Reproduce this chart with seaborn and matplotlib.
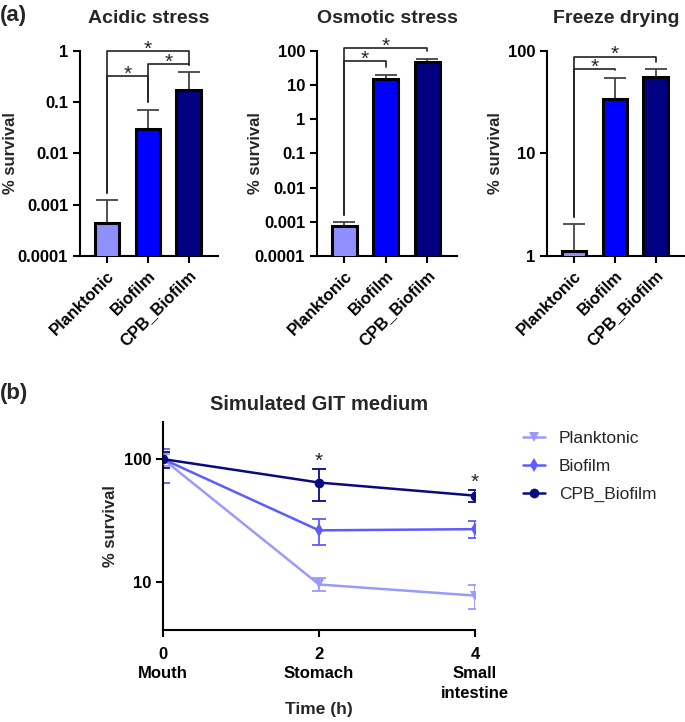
import numpy as np
import pandas as pd

import matplotlib
matplotlib.use("Agg")
import matplotlib.pyplot as plt
import seaborn as sns

sns.set_theme(style="ticks",
              rc={
                  "axes.linewidth": 1.5,
                  "xtick.major.width": 1.5,
                  "ytick.major.width": 1.5,
                  "xtick.major.size": 5,
                  "ytick.major.size": 5,
                  "xtick.color": "black",
                  "ytick.color": "black",
                  "axes.edgecolor": "black",
              })
plt.rcParams['font.family'] = ['Liberation Sans', 'DejaVu Sans']

W, H = 685, 722

# ---- panel (a) data ----
groups = ["Planktonic", "Biofilm", "CPB_Biofilm"]
bar_colors = ["#8f8fff", "#0000ff", "#000080"]

acid_mean = [0.00045, 0.030, 0.175]
acid_upper = [0.00123, 0.072, 0.39]
acid_ticks = [0.0001, 0.001, 0.01, 0.1, 1]
acid_ticklabels = ["0.0001", "0.001", "0.01", "0.1", "1"]
acid_brackets = [(0, 1, 0.32), (1, 2, 0.55), (0, 2, 0.98)]

osmo_mean = [0.00077, 15.0, 48.0]
osmo_upper = [0.001, 20.5, 60.0]
osmo_ticks = [0.0001, 0.001, 0.01, 0.1, 1, 10, 100]
osmo_ticklabels = ["0.0001", "0.001", "0.01", "0.1", "1", "10", "100"]
osmo_brackets = [(0, 1, 50), (0, 2, 123)]

freeze_mean = [1.13, 34.0, 56.0]
freeze_upper = [2.04, 55.0, 66.0]
freeze_ticks = [1, 10, 100]
freeze_ticklabels = ["1", "10", "100"]
freeze_brackets = [(0, 1, 66), (0, 2, 88)]

# ---- panel (b) data ----
times = [0, 2, 4]
time_ticklabels = ["0\nMouth", "2\nStomach", "4\nSmall\nintestine"]
line_colors = {"Planktonic": "#9a9afc", "Biofilm": "#5c5cff", "CPB_Biofilm": "#0a0a80"}
line_markers = {"Planktonic": "v", "Biofilm": "d", "CPB_Biofilm": "o"}

plank_mean = [100, 9.6, 7.8]
plank_lo = [88, 8.5, 6.1]
plank_hi = [110, 10.9, 9.5]
bio_mean = [100, 26.4, 27.0]
bio_lo = [64, 20.0, 22.8]
bio_hi = [121, 32.6, 31.6]
cpb_mean = [100, 64.5, 50.5]
cpb_lo = [85, 45.5, 45.0]
cpb_hi = [115, 83.8, 56.0]
star_times = [2, 4]

fig = plt.figure(figsize=(W / 100, H / 100), dpi=100)


def px_axes(left, right, top, bottom):
    return fig.add_axes([left / W, 1 - bottom / H, (right - left) / W, (bottom - top) / H])


def bar_panel(ax, title, mean, upper, ticks, ticklabels, brackets, label_x):
    ax.set_yscale("log")
    sns.barplot(x=groups, y=mean, hue=groups, palette=bar_colors, legend=False,
                width=0.6, edgecolor="black", linewidth=2.2, saturation=1, ax=ax, zorder=3)
    mean = np.array(mean)
    upper = np.array(upper)
    ax.errorbar(np.arange(len(groups)), mean, yerr=[np.zeros_like(mean), upper - mean],
                fmt="none", ecolor="#444444", elinewidth=1.3, capsize=8, capthick=1.3, zorder=2)
    ax.set_ylim(ticks[0], ticks[-1])
    ax.set_xlim(-0.66, 2.72)
    ax.set_yticks(ticks, ticklabels)
    ax.minorticks_off()
    ax.tick_params(axis="both", labelsize=12)
    for lab in ax.get_yticklabels():
        lab.set_fontweight("bold")
    ax.set_xticks(range(len(groups)))
    ax.set_xticklabels(groups, rotation=45, ha="right", rotation_mode="anchor", fontweight="bold")
    ax.set_ylabel("% survival", fontsize=12, fontweight="bold")
    ax.yaxis.set_label_coords(label_x, 0.5)
    ax.set_xlabel("")
    ax.set_title(title, fontsize=14, fontweight="bold", pad=20)
    sns.despine(ax=ax)

    # significance brackets
    logspan = np.log10(ticks[-1]) - np.log10(ticks[0])
    gap = 10 ** (0.035 * logspan)
    for i, j, h in brackets:
        ax.plot([i, i, j, j], [upper[i] * gap, h, h, upper[j] * gap],
                color="#222222", lw=1.2, clip_on=False, zorder=4)
        ax.annotate("*", xy=((i + j) / 2, h), xytext=(0, -2.5), textcoords="offset points",
                    ha="center", va="baseline", fontsize=15, annotation_clip=False)


ax1 = px_axes(80, 218, 51, 256)
bar_panel(ax1, "Acidic stress", acid_mean, acid_upper, acid_ticks, acid_ticklabels,
          acid_brackets, (18 - 80) / 138)
ax2 = px_axes(317, 457, 51, 256)
bar_panel(ax2, "Osmotic stress", osmo_mean, osmo_upper, osmo_ticks, osmo_ticklabels,
          osmo_brackets, (263 - 317) / 140)
ax3 = px_axes(547, 685, 51, 256)
bar_panel(ax3, "Freeze drying", freeze_mean, freeze_upper, freeze_ticks, freeze_ticklabels,
          freeze_brackets, (503 - 547) / 138)

# ---- panel (b) ----
df = pd.DataFrame({
    "time": times * 3,
    "survival": plank_mean + bio_mean + cpb_mean,
    "group": ["Planktonic"] * 3 + ["Biofilm"] * 3 + ["CPB_Biofilm"] * 3,
})
lows = {"Planktonic": plank_lo, "Biofilm": bio_lo, "CPB_Biofilm": cpb_lo}
highs = {"Planktonic": plank_hi, "Biofilm": bio_hi, "CPB_Biofilm": cpb_hi}

axb = px_axes(163, 475, 422, 630)
axb.set_yscale("log")
sns.lineplot(data=df, x="time", y="survival", hue="group", style="group",
             palette=line_colors, markers=line_markers, dashes=False,
             linewidth=1.8, markersize=7, markeredgewidth=0, ax=axb, zorder=3)
for g in groups:
    m = np.array(df.loc[df.group == g, "survival"])
    axb.errorbar(times, m, yerr=[m - np.array(lows[g]), np.array(highs[g]) - m],
                 fmt="none", ecolor=line_colors[g], elinewidth=1.3, capsize=5, capthick=1.3, zorder=2)
for t in star_times:
    k = times.index(t)
    axb.annotate("*", xy=(t, cpb_hi[k]), xytext=(0, 1.5), textcoords="offset points",
                 ha="center", va="baseline", fontsize=15)

axb.set_xlim(0, 4)
axb.set_ylim(4.1, 200)
axb.set_yticks([10, 100], ["10", "100"])
axb.minorticks_off()
axb.set_xticks(times)
axb.set_xticklabels(time_ticklabels, fontweight="bold", linespacing=1.4)
for lab in axb.get_yticklabels():
    lab.set_fontweight("bold")
axb.tick_params(labelsize=12)
axb.tick_params(axis="x", pad=7)
axb.set_xlabel("Time (h)", fontsize=12.5, fontweight="bold")
axb.xaxis.set_label_coords(0.5, -0.345)
axb.set_ylabel("% survival", fontsize=12, fontweight="bold")
axb.yaxis.set_label_coords((118 - 163) / 312, 0.5)
axb.set_title("Simulated GIT medium", fontsize=14.5, fontweight="bold", pad=9)
sns.despine(ax=axb)

handles, labels = axb.get_legend_handles_labels()
for h in handles:
    h.set_markersize(7)
axb.legend(handles, labels, loc="upper left", bbox_to_anchor=(507 / W, 1 - 415 / H),
           bbox_transform=fig.transFigure, frameon=False, fontsize=12.5,
           handlelength=1.3, handletextpad=0.8, labelspacing=0.75)

fig.text(0, 1 - 15 / H, "(a)", fontsize=16, fontweight="bold", va="center", ha="left")
fig.text(0, 1 - 393 / H, "(b)", fontsize=16, fontweight="bold", va="center", ha="left")

fig.savefig("out.png", dpi=100)
